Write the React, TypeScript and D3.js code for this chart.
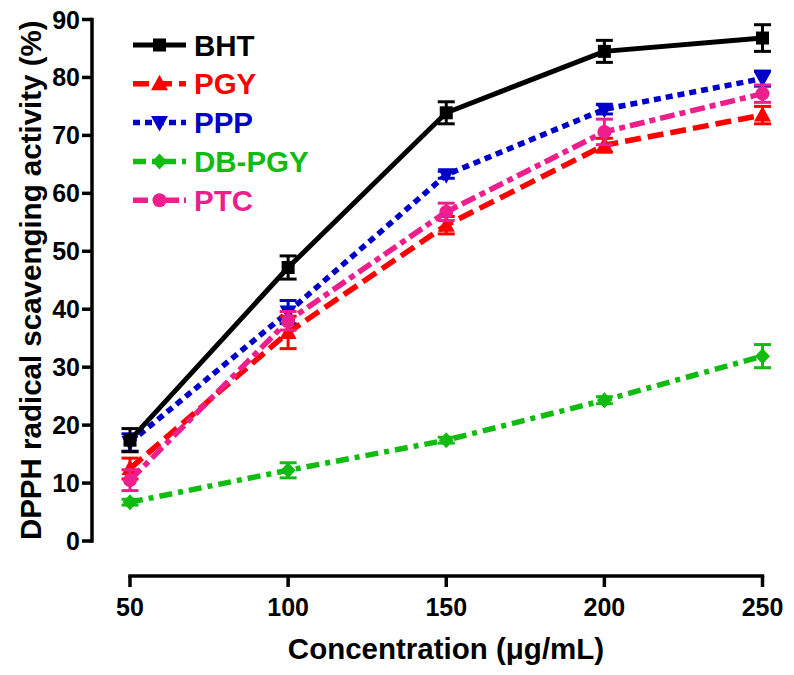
import React from "react";
import * as d3 from "d3";

const concentrations = [50, 100, 150, 200, 250];
const yTicks = [0, 10, 20, 30, 40, 50, 60, 70, 80, 90];

const seriesNames = ["BHT", "PGY", "PPP", "DB-PGY", "PTC"];
const bhtValues = [17.4, 47.2, 73.9, 84.5, 86.8];
const bhtErrors = [2.0, 2.0, 1.9, 1.9, 2.3];
const pgyValues = [12.5, 36.0, 54.5, 68.3, 73.5];
const pgyErrors = [1.8, 2.8, 1.5, 1.2, 1.5];
const pppValues = [17.0, 39.5, 63.2, 74.5, 79.8];
const pppErrors = [1.5, 2.0, 0.6, 0.8, 1.3];
const dbpgyValues = [6.7, 12.2, 17.4, 24.3, 31.9];
const dbpgyErrors = [0.5, 1.3, 0.5, 0.6, 2.0];
const ptcValues = [10.5, 38.0, 56.8, 70.6, 77.2];
const ptcErrors = [1.8, 1.6, 1.5, 2.2, 1.5];

type Marker = "square" | "triUp" | "triDown" | "diamond" | "circle";

const series = [
  { name: seriesNames[0], values: bhtValues, errors: bhtErrors, color: "#000000", dash: "", marker: "square" as Marker, width: 5 },
  { name: seriesNames[1], values: pgyValues, errors: pgyErrors, color: "#ff0000", dash: "16,7", marker: "triUp" as Marker, width: 5.5 },
  { name: seriesNames[2], values: pppValues, errors: pppErrors, color: "#0000c8", dash: "7,5", marker: "triDown" as Marker, width: 5.5 },
  { name: seriesNames[3], values: dbpgyValues, errors: dbpgyErrors, color: "#11bb11", dash: "13,6,5,6", marker: "diamond" as Marker, width: 5.5 },
  { name: seriesNames[4], values: ptcValues, errors: ptcErrors, color: "#ee1f8c", dash: "15,5,6,5", marker: "circle" as Marker, width: 5.5 },
];

const drawOrder = [3, 2, 1, 4, 0];

const FONT = "'Liberation Sans', Arial, Helvetica, sans-serif";

function MarkerShape({ type, x, y, color }: { type: Marker; x: number; y: number; color: string }) {
  if (type === "square") return <rect x={x - 6.5} y={y - 6.5} width={13} height={13} fill={color} />;
  if (type === "circle") return <circle cx={x} cy={y} r={7} fill={color} />;
  if (type === "triUp")
    return <path d={`M${x},${y - 9} L${x + 8.5},${y + 6.5} L${x - 8.5},${y + 6.5} Z`} fill={color} />;
  if (type === "triDown")
    return <path d={`M${x},${y + 9} L${x + 8.5},${y - 6.5} L${x - 8.5},${y - 6.5} Z`} fill={color} />;
  return <path d={`M${x},${y - 8} L${x + 7.5},${y} L${x},${y + 8} L${x - 7.5},${y} Z`} fill={color} />;
}

export default function App() {
  const x = d3.scaleLinear().domain([50, 250]).range([130, 762.5]);
  const y = d3.scaleLinear().domain([0, 90]).range([541, 19.5]);
  const axisX = 92;
  const axisY = 576;
  const line = d3
    .line<number>()
    .x((_, i) => x(concentrations[i]))
    .y((v) => y(v));

  const legendY0 = 45;
  const legendStep = 38.8;

  return (
    <svg
      width={794}
      height={675}
      style={{ position: "absolute", left: 0, top: 0, background: "#fff" }}
      fontFamily={FONT}
    >
      <rect x={0} y={0} width={794} height={675} fill="#fff" />
      {/* Y axis */}
      <line x1={axisX} x2={axisX} y1={y(90) - 1.75} y2={y(0) + 1.75} stroke="#000" strokeWidth={3.5} />
      {yTicks.map((t) => (
        <g key={t}>
          <line x1={axisX - 10} x2={axisX} y1={y(t)} y2={y(t)} stroke="#000" strokeWidth={3.5} />
          <text x={80} y={y(t)} dy="0.36em" textAnchor="end" fontSize={25} fontWeight="bold">
            {t}
          </text>
        </g>
      ))}
      {/* X axis */}
      <line x1={x(50) - 1.75} x2={x(250) + 1.75} y1={axisY} y2={axisY} stroke="#000" strokeWidth={3.5} />
      {concentrations.map((c) => (
        <g key={c}>
          <line x1={x(c)} x2={x(c)} y1={axisY} y2={axisY + 11} stroke="#000" strokeWidth={3.5} />
          <text x={x(c)} y={607} dy="0.36em" textAnchor="middle" fontSize={25} fontWeight="bold">
            {c}
          </text>
        </g>
      ))}
      <text x={446} y={648} dy="0.36em" textAnchor="middle" fontSize={29.5} fontWeight="bold">
        Concentration (μg/mL)
      </text>
      <text
        transform={`translate(30, ${(y(0) + y(90)) / 2}) rotate(-90)`}
        textAnchor="middle"
        dy="0.36em"
        fontSize={29.5}
        fontWeight="bold"
      >
        DPPH radical scavenging activity (%)
      </text>

      {/* Series */}
      {drawOrder.map((si) => {
        const s = series[si];
        return (
          <g key={s.name}>
            <path
              d={line(s.values) || ""}
              fill="none"
              stroke={s.color}
              strokeWidth={s.width}
              strokeDasharray={s.dash || undefined}
            />
            {s.values.map((v, i) => {
              const cx = x(concentrations[i]);
              const e = s.errors[i];
              return (
                <g key={i}>
                  <line x1={cx} x2={cx} y1={y(v - e)} y2={y(v + e)} stroke={s.color} strokeWidth={3} />
                  <line x1={cx - 8.5} x2={cx + 8.5} y1={y(v - e)} y2={y(v - e)} stroke={s.color} strokeWidth={3} />
                  <line x1={cx - 8.5} x2={cx + 8.5} y1={y(v + e)} y2={y(v + e)} stroke={s.color} strokeWidth={3} />
                  <MarkerShape type={s.marker} x={cx} y={y(v)} color={s.color} />
                </g>
              );
            })}
          </g>
        );
      })}

      {/* Legend */}
      {series.map((s, i) => {
        const ly = legendY0 + i * legendStep;
        return (
          <g key={s.name}>
            <line
              x1={133}
              x2={186}
              y1={ly}
              y2={ly}
              stroke={s.color}
              strokeWidth={s.width}
              strokeDasharray={s.dash || undefined}
            />
            <MarkerShape type={s.marker} x={159.5} y={ly} color={s.color} />
            <text x={194} y={ly} dy="0.36em" fontSize={29.5} fontWeight="bold" fill={s.color}>
              {s.name}
            </text>
          </g>
        );
      })}
    </svg>
  );
}
